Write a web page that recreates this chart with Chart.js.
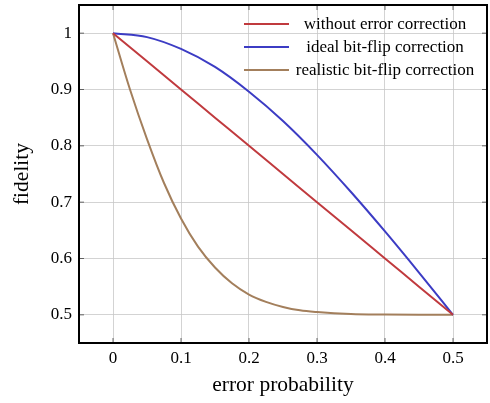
<!DOCTYPE html>
<html>
<head>
<meta charset="utf-8">
<script src="https://cdn.jsdelivr.net/npm/chart.js@4/dist/chart.umd.min.js"></script>
<style>
  html, body { margin: 0; padding: 0; background: #fff; }
  #wrap { width: 490px; height: 403px; }
</style>
</head>
<body>
<div id="wrap"><canvas id="myChart" width="490" height="403"></canvas></div>
<script>
// values
var seriesNames = ['without error correction', 'ideal bit-flip correction', 'realistic bit-flip correction'];
var pCoarse = [0, 0.05, 0.1, 0.15, 0.2, 0.25, 0.3, 0.35, 0.4, 0.45, 0.5];
var noCorrection = [1, 0.95, 0.9, 0.85, 0.8, 0.75, 0.7, 0.65, 0.6, 0.55, 0.5];
var idealCorrection = [1, 0.993, 0.972, 0.94, 0.896, 0.844, 0.784, 0.718, 0.648, 0.575, 0.5];
var pFine = [0, 0.025, 0.05, 0.075, 0.1, 0.125, 0.15, 0.175, 0.2, 0.225, 0.25, 0.275, 0.3, 0.35, 0.4, 0.45, 0.5];
var realisticCorrection = [1, 0.900, 0.812, 0.734, 0.671, 0.621, 0.584, 0.556, 0.536, 0.523, 0.514, 0.508, 0.505, 0.5015, 0.5005, 0.5, 0.5];
var xTicks = [0, 0.1, 0.2, 0.3, 0.4, 0.5];
var yTicks = [0.5, 0.6, 0.7, 0.8, 0.9, 1];
var colors = ['#c03a3e', '#3c3cc4', '#a37f5c'];

var serif = "'Liberation Serif', 'DejaVu Serif', serif";

function toPoints(xs, ys) {
    var pts = [];
    for (var i = 0; i < xs.length; i++) {
        pts.push({x: xs[i], y: ys[i]});
    }
    return pts;
}

//box, inner tick marks and legend drawn like pgfplots
var pgfLook = {
    id: 'pgfLook',
    afterDatasetsDraw: function(chart) {
        var c = chart.ctx;
        var a = chart.chartArea;
        var xs = chart.scales.x, ys = chart.scales.y;
        c.save();
        c.strokeStyle = '#444';
        c.lineWidth = 0.8;
        c.beginPath();
        xTicks.forEach(function(v) {
            var px = xs.getPixelForValue(v);
            c.moveTo(px, a.bottom); c.lineTo(px, a.bottom - 5);
            c.moveTo(px, a.top); c.lineTo(px, a.top + 5);
        });
        yTicks.forEach(function(v) {
            var py = ys.getPixelForValue(v);
            c.moveTo(a.left, py); c.lineTo(a.left + 5, py);
            c.moveTo(a.right, py); c.lineTo(a.right - 5, py);
        });
        c.stroke();

        c.strokeStyle = '#000';
        c.lineWidth = 2;
        c.strokeRect(a.left, a.top, a.right - a.left, a.bottom - a.top);

        //legend
        c.font = '17px ' + serif;
        c.textAlign = 'center';
        c.textBaseline = 'middle';
        chart.data.datasets.forEach(function(ds, i) {
            var y = 24 + i * 23;
            c.strokeStyle = ds.borderColor;
            c.lineWidth = 2;
            c.beginPath();
            c.moveTo(244, y); c.lineTo(289, y);
            c.stroke();
            c.fillStyle = '#000';
            c.fillText(ds.label, 385, y + 1);
        });
        c.restore();
    }
};

var ctx = document.getElementById('myChart').getContext('2d');
var myChart = new Chart(ctx, {
    type: 'line',
    data: {
        datasets: [
            {label: seriesNames[0], data: toPoints(pCoarse, noCorrection), borderColor: colors[0]},
            {label: seriesNames[1], data: toPoints(pCoarse, idealCorrection), borderColor: colors[1]},
            {label: seriesNames[2], data: toPoints(pFine, realisticCorrection), borderColor: colors[2]}
        ]
    },
    options: {
        responsive: false,
        animation: false,
        devicePixelRatio: 1,
        layout: {padding: {top: 5, right: 3, left: 0, bottom: 0}},
        elements: {
            point: {radius: 0},
            line: {borderWidth: 2, cubicInterpolationMode: 'monotone', fill: false}
        },
        plugins: {legend: {display: false}, tooltip: {enabled: false}},
        scales: {
            x: {
                type: 'linear',
                min: -0.05,
                max: 0.55,
                afterBuildTicks: function(s) { s.ticks = xTicks.map(function(v) { return {value: v}; }); },
                afterFit: function(s) { s.height = 60; s.paddingLeft = 0; s.paddingRight = 0; },
                grid: {color: '#c8c8c8', lineWidth: 0.8, drawTicks: false},
                border: {display: false},
                ticks: {
                    padding: 5,
                    color: '#000',
                    font: {family: serif, size: 17},
                    maxRotation: 0,
                    callback: function(v) { return String(+v.toFixed(1)); }
                },
                title: {
                    display: true,
                    text: 'error probability',
                    color: '#000',
                    font: {family: serif, size: 21.5},
                    padding: {top: 0, bottom: 5}
                }
            },
            y: {
                type: 'linear',
                min: 0.45,
                max: 1.05,
                afterBuildTicks: function(s) { s.ticks = yTicks.map(function(v) { return {value: v}; }); },
                afterFit: function(s) { s.width = 79; s.paddingTop = 0; s.paddingBottom = 0; },
                grid: {color: '#c8c8c8', lineWidth: 0.8, drawTicks: false},
                border: {display: false},
                ticks: {
                    padding: 7,
                    color: '#000',
                    font: {family: serif, size: 17},
                    callback: function(v) { return String(+v.toFixed(1)); }
                },
                title: {
                    display: true,
                    text: 'fidelity',
                    color: '#000',
                    font: {family: serif, size: 21.5},
                    padding: {top: 9, bottom: 0}
                }
            }
        }
    },
    plugins: [pgfLook]
});
</script>
</body>
</html>
